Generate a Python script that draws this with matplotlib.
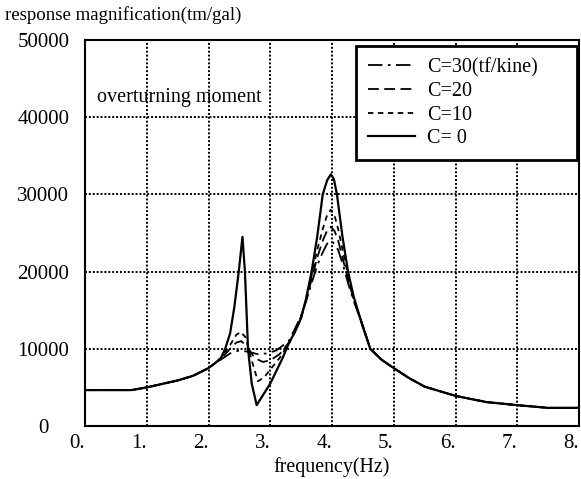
import matplotlib
matplotlib.use("Agg")
import matplotlib.pyplot as plt

# --- data (frequency in Hz, magnification in tm/gal) ---
f_c0 = [0.0, 0.75, 1.0, 1.5, 1.75, 2.0, 2.1, 2.2, 2.27, 2.35, 2.42, 2.49, 2.55, 2.59, 2.64, 2.7, 2.78,
        3.0, 3.2, 3.3, 3.4, 3.5, 3.58, 3.67, 3.76, 3.85, 3.92, 3.98, 4.03, 4.08, 4.17, 4.26, 4.35,
        4.5, 4.62, 4.8, 5.0, 5.25, 5.5, 6.0, 6.5, 7.0, 7.5, 8.0]
v_c0 = [4650, 4650, 5000, 5900, 6500, 7500, 8100, 8800, 10000, 12000, 15500, 20000, 24500, 20000, 10000, 5500, 2700,
        5500, 8800, 10700, 12200, 14000, 16500, 20000, 24500, 30000, 31800, 32600, 32000, 30000, 24500, 20000, 16800,
        12800, 10000, 8600, 7500, 6200, 5100, 3900, 3100, 2700, 2350, 2350]

f_c10 = [0.0, 0.75, 1.0, 1.5, 1.75, 2.0, 2.1, 2.2, 2.35, 2.45, 2.52, 2.6, 2.7, 2.8, 2.9, 3.0, 3.15,
         3.3, 3.4, 3.5, 3.58, 3.67, 3.76, 3.85, 3.92, 3.98, 4.04, 4.1, 4.18, 4.26, 4.35, 4.5, 4.62,
         4.8, 5.0, 5.25, 5.5, 6.0, 6.5, 7.0, 7.5, 8.0]
v_c10 = [4650, 4650, 5000, 5900, 6500, 7500, 8100, 8800, 10500, 11800, 12200, 11500, 8500, 5800, 6300, 7300, 8800,
         10600, 12200, 14000, 16300, 19500, 22800, 25500, 27300, 28000, 27300, 25500, 22500, 19500, 16500, 12900, 10000,
         8600, 7500, 6200, 5100, 3900, 3100, 2700, 2350, 2350]

f_c20 = [0.0, 0.75, 1.0, 1.5, 1.75, 2.0, 2.1, 2.2, 2.35, 2.45, 2.53, 2.62, 2.75, 2.88, 3.0, 3.15,
         3.3, 3.4, 3.5, 3.58, 3.67, 3.76, 3.85, 3.92, 3.98, 4.04, 4.1, 4.18, 4.26, 4.35, 4.5, 4.62,
         4.8, 5.0, 5.25, 5.5, 6.0, 6.5, 7.0, 7.5, 8.0]
v_c20 = [4650, 4650, 5000, 5900, 6500, 7500, 8100, 8700, 10000, 10800, 11000, 10300, 8800, 8300, 8500, 9300,
         10800, 12400, 14200, 16200, 19000, 21800, 24000, 25300, 25800, 25300, 24000, 21500, 19000, 16400, 13000, 10000,
         8600, 7500, 6200, 5100, 3900, 3100, 2700, 2350, 2350]

f_c30 = [0.0, 0.75, 1.0, 1.5, 1.75, 2.0, 2.1, 2.2, 2.35, 2.5, 2.65, 2.8, 2.95, 3.1,
         3.3, 3.4, 3.5, 3.58, 3.67, 3.76, 3.85, 3.92, 3.98, 4.04, 4.1, 4.18, 4.26, 4.35, 4.5, 4.62,
         4.8, 5.0, 5.25, 5.5, 6.0, 6.5, 7.0, 7.5, 8.0]
v_c30 = [4650, 4650, 5000, 5900, 6500, 7500, 8100, 8600, 9400, 9800, 9600, 9300, 9400, 9800,
         11000, 12600, 14300, 16200, 18500, 20800, 22500, 23600, 24000, 23600, 22800, 20800, 18500, 16200, 13000, 10000,
         8600, 7500, 6200, 5100, 3900, 3100, 2700, 2350, 2350]

x_ticks = [0, 1, 2, 3, 4, 5, 6, 7, 8]
x_labels = ["0.", "1.", "2.", "3.", "4.", "5.", "6.", "7.", "8."]
y_ticks = [0, 10000, 20000, 30000, 40000, 50000]
y_labels = ["0", "10000", "20000", "30000", "40000", "50000"]

plt.rcParams['font.family'] = ['Liberation Serif', 'DejaVu Serif']
plt.rcParams['font.size'] = 15

fig = plt.figure(figsize=(5.81, 4.79), dpi=100)
ax = fig.add_axes([85/581, 1 - 426/479, 494/581, 386/479])

ax.plot(f_c30, v_c30, color='black', lw=1.3, linestyle=(0, (8, 3, 1.5, 3)), label='C=30(tf/kine)')
ax.plot(f_c20, v_c20, color='black', lw=1.3, linestyle=(0, (6, 3)), label='C=20')
ax.plot(f_c10, v_c10, color='black', lw=1.3, linestyle=(0, (3, 2.5)), label='C=10')
ax.plot(f_c0, v_c0, color='black', lw=1.6, linestyle='-', label='C= 0')

ax.set_xlim(0, 8)
ax.set_ylim(0, 50000)

# dotted grid at inner ticks
for gx in x_ticks[1:-1]:
    ax.axvline(gx, color='black', lw=1.4, linestyle=(0, (1, 1)), zorder=0.5)
for gy in y_ticks[1:-1]:
    ax.axhline(gy, color='black', lw=1.4, linestyle=(0, (1, 1)), zorder=0.5)

ax.set_xticks(x_ticks)
ax.set_xticklabels(x_labels, ha='right')
ax.set_yticks(y_ticks)
ax.set_yticklabels(y_labels, ha='center')
ax.tick_params(length=0)
ax.tick_params(axis='x', pad=6)
ax.tick_params(axis='y', pad=30)

for s in ax.spines.values():
    s.set_linewidth(1.5)

ax.set_xlabel("frequency(Hz)", fontsize=14.4, labelpad=3)
fig.text(5/581, 1 - 15/479, "response magnification(tm/gal)", fontsize=13.6, ha='left', va='center')
ax.text(0.024, 0.85, "overturning moment", fontsize=14.5, transform=ax.transAxes, ha='left', va='center')

leg = ax.legend(loc='upper left', bbox_to_anchor=(356/581, 1 - 160/479, 221/581, 114/479),
                bbox_transform=fig.transFigure, mode='expand', borderaxespad=0, fancybox=False,
                framealpha=1, edgecolor='black', fontsize=14.5, handlelength=2.35, handletextpad=0.6,
                labelspacing=0.22, borderpad=0.6)
leg.get_frame().set_linewidth(2)

fig.savefig("out.png", dpi=100)
